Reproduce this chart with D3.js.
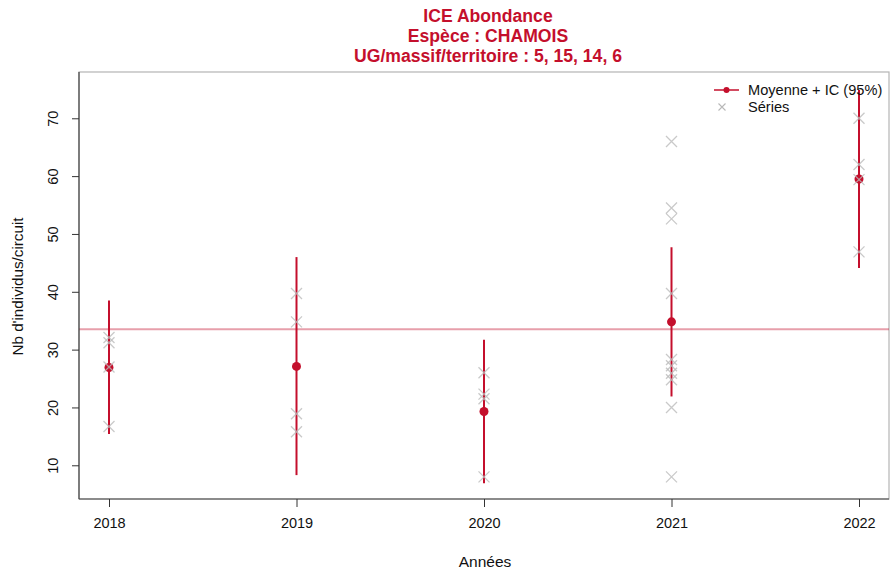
<!DOCTYPE html>
<html>
<head>
<meta charset="utf-8">
<script src="https://cdn.jsdelivr.net/npm/d3@7"></script>
<style>
  body { margin: 0; background: #fff; }
  svg { display: block; font-family: "Liberation Sans", Arial, sans-serif; }
</style>
</head>
<body>
<svg id="chart" width="890" height="571"></svg>
<script>
// ---- data ----
const years = [2018, 2019, 2020, 2021, 2022];
const means = [26.9, 27.1, 19.3, 34.8, 59.5];
const ciLow = [15.4, 8.3, 6.9, 21.9, 44.1];
const ciHigh = [38.5, 46.0, 31.7, 47.7, 74.9];
const series2018 = [32.1, 31.2, 27.0, 16.7];
const series2019 = [39.7, 34.8, 18.9, 15.8];
const series2020 = [26.0, 22.3, 21.5, 8.0];
const series2021 = [66.0, 54.5, 52.6, 39.7, 28.3, 27.2, 25.9, 24.8, 20.0, 8.0];
const series2022 = [70.0, 62.0, 59.4, 46.9];
const seriesByYear = [series2018, series2019, series2020, series2021, series2022];
const refLine = 33.5;
const yTicks = [10, 20, 30, 40, 50, 60, 70];
const titleLines = ["ICE Abondance", "Espèce : CHAMOIS", "UG/massif/territoire : 5, 15, 14, 6"];
const legendLabels = ["Moyenne + IC (95%)", "Séries"];
const xTitle = "Années";
const yTitle = "Nb d'individus/circuit";

// ---- layout ----
const W = 890, H = 571;
const box = { left: 79, right: 889, top: 72, bottom: 499 };
const red = "#C40F2C";
const svg = d3.select("#chart");

const x = d3.scaleLinear().domain([2017.84, 2022.16]).range([box.left, box.right]);
const y = d3.scaleLinear().domain([4.17, 77.83]).range([box.bottom, box.top + 1]);

// box
svg.append("rect")
  .attr("x", box.left).attr("y", box.top)
  .attr("width", box.right - box.left).attr("height", box.bottom - box.top)
  .attr("fill", "none").attr("stroke", "#b4b4b4").attr("stroke-width", 1.2);

// reference line
svg.append("line")
  .attr("x1", box.left).attr("x2", box.right)
  .attr("y1", y(refLine)).attr("y2", y(refLine))
  .attr("stroke", red).attr("stroke-opacity", 0.4).attr("stroke-width", 2);

// axes
const xAxis = d3.axisBottom(x).tickValues(years).tickFormat(d3.format("d")).tickSize(8).tickPadding(11);
const gx = svg.append("g").attr("transform", `translate(0,${box.bottom})`).call(xAxis);
gx.select(".domain").attr("stroke", "#444").attr("stroke-width", 1.2)
  .attr("d", `M${box.left},0H${box.right}`);
gx.selectAll(".tick line").attr("stroke", "#333");
gx.selectAll(".tick text").attr("font-size", 14.5).attr("fill", "#111")
  .attr("font-family", "Liberation Sans, Arial, sans-serif");

const yAxis = d3.axisLeft(y).tickValues(yTicks).tickSize(7).tickPadding(0);
const gy = svg.append("g").attr("transform", `translate(${box.left},0)`).call(yAxis);
gy.select(".domain").attr("stroke", "#444").attr("stroke-width", 1.2)
  .attr("d", `M0,${box.top}V${box.bottom}`);
gy.selectAll(".tick line").attr("stroke", "#333");
gy.selectAll(".tick text")
  .attr("font-size", 14.5).attr("fill", "#111")
  .attr("font-family", "Liberation Sans, Arial, sans-serif")
  .attr("x", null).attr("dy", null)
  .attr("text-anchor", "middle")
  .attr("transform", "translate(-26,0) rotate(-90)")
  .attr("dominant-baseline", "central");

// CI lines
svg.append("g").selectAll("line").data(years).join("line")
  .attr("x1", d => x(d)).attr("x2", d => x(d))
  .attr("y1", (d, i) => y(ciLow[i])).attr("y2", (d, i) => y(ciHigh[i]))
  .attr("stroke", red).attr("stroke-width", 2);

// mean points
svg.append("g").selectAll("circle").data(years).join("circle")
  .attr("cx", d => x(d)).attr("cy", (d, i) => y(means[i]))
  .attr("r", 4.5).attr("fill", red);

// series crosses
const crossPts = [];
years.forEach((yr, i) => seriesByYear[i].forEach(v => crossPts.push({ yr, v })));
const cs = 5.5;
svg.append("g").selectAll("path").data(crossPts).join("path")
  .attr("d", d => {
    const cx = x(d.yr), cy = y(d.v);
    return `M${cx - cs},${cy - cs}L${cx + cs},${cy + cs}M${cx - cs},${cy + cs}L${cx + cs},${cy - cs}`;
  })
  .attr("stroke", "#bcbcbc").attr("stroke-opacity", 0.8).attr("stroke-width", 1.3).attr("fill", "none");

// titles
svg.append("g").selectAll("text").data(titleLines).join("text")
  .attr("x", (box.left + box.right) / 2 + 4)
  .attr("y", (d, i) => 22 + i * 20)
  .attr("text-anchor", "middle")
  .attr("font-size", 17.6).attr("font-weight", "bold").attr("fill", red)
  .text(d => d);

svg.append("text")
  .attr("x", (box.left + box.right) / 2 + 1).attr("y", 567)
  .attr("text-anchor", "middle").attr("font-size", 15.5).attr("fill", "#111")
  .text(xTitle);

svg.append("text")
  .attr("transform", `translate(23,${(box.top + box.bottom) / 2 + 1}) rotate(-90)`)
  .attr("text-anchor", "middle").attr("font-size", 15.2).attr("fill", "#111")
  .text(yTitle);

// legend
const lg = svg.append("g");
lg.append("line").attr("x1", 714).attr("x2", 739).attr("y1", 90).attr("y2", 90)
  .attr("stroke", red).attr("stroke-width", 1.5);
lg.append("circle").attr("cx", 726.5).attr("cy", 90).attr("r", 3).attr("fill", red);
lg.append("path")
  .attr("d", `M${722 - 3.5},${107 - 3.5}L${722 + 3.5},${107 + 3.5}M${722 - 3.5},${107 + 3.5}L${722 + 3.5},${107 - 3.5}`)
  .attr("stroke", "#b8b8b8").attr("stroke-width", 1.1);
lg.selectAll("text").data(legendLabels).join("text")
  .attr("x", 748).attr("y", (d, i) => 95 + i * 17)
  .attr("font-size", 14.6).attr("fill", "#111")
  .text(d => d);
</script>
</body>
</html>
